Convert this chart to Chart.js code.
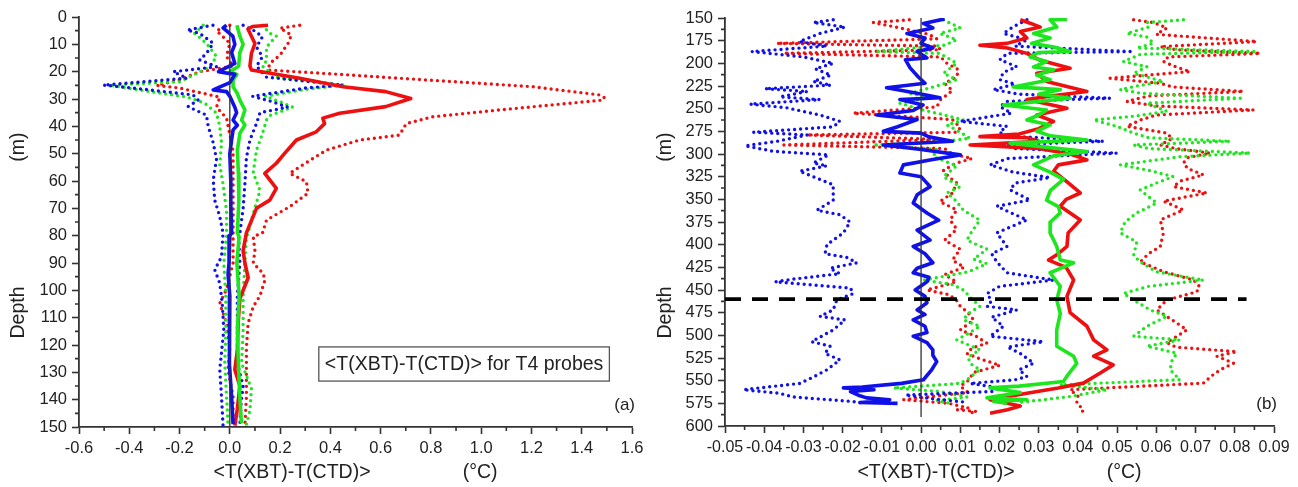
<!DOCTYPE html>
<html>
<head>
<meta charset="utf-8">
<script src="https://cdn.jsdelivr.net/npm/chart.js@4.4.1/dist/chart.umd.min.js"></script>
<style>
  html, body { margin: 0; padding: 0; background: #fff; }
  #wrap { position: relative; width: 1298px; height: 487px; }
  #ca { position: absolute; left: 0; top: 0; }
  #cb { position: absolute; left: 650px; top: 0; }
</style>
</head>
<body>
<div id="wrap">
  <canvas id="ca" width="650" height="487"></canvas>
  <canvas id="cb" width="648" height="487"></canvas>
</div>
<script>
// ---- panel (a): [depth m, <T(XBT)-T(CTD)> degC] ----
const blueMeanA = [[3,-0.013],[4,-0.027],[7,0.012],[10,0.02],[13,0.007],[17,0.02],[20,-0.045],[21,0.02],[24,0],[26.7,-0.066],[27.3,-0.013],[29,0],[33,0.02],[35,0.027],[37.7,0.013],[39.6,0.03],[41.3,0.013],[45,0.007],[50,0],[60,0.004],[69,0.004],[79,0.007],[80,0],[90,-0.003],[94,-0.007],[102,0],[114,-0.003],[127,0],[139,0.007],[149,0.013]];
const greenMeanA = [[3,0.028],[7,0.04],[10,0.053],[13,0.04],[18,0.035],[20,0],[21,0.028],[23,0.013],[25.5,0.013],[28,0.03],[30.4,0.04],[34,0.06],[37.7,0.047],[39.5,0.06],[42.6,0.04],[48.7,0.03],[57,0.034],[67,0.036],[79,0.03],[80.4,0.037],[90,0.028],[102,0.037],[114.5,0.03],[126.7,0.034],[139,0.04],[148.6,0.046]];
const redMeanA = [[3,0.152],[3.5,0.09],[4.4,0.072],[9.7,0.1],[13.3,0.086],[18,0.08],[19.4,0.086],[22.4,0.278],[25.5,0.45],[27.3,0.62],[29.8,0.72],[32.8,0.62],[35.2,0.437],[37,0.37],[39,0.377],[42,0.344],[45,0.265],[49.9,0.218],[53.5,0.185],[57.2,0.139],[62.7,0.185],[67,0.159],[70,0.106],[79,0.066],[85.5,0.053],[90,0.06],[95.4,0.073],[103,0.04],[112,0.033],[122,0.03],[129,0.02],[135,0.04],[143.4,0.03],[149.5,0.02]];
const blueLoA = [[3,-0.067],[4.8,-0.17],[6,-0.12],[9.6,-0.066],[13.3,-0.093],[15.7,-0.12],[18.2,-0.053],[20,-0.225],[22.4,-0.17],[24.9,-0.503],[26,-0.384],[28.5,-0.146],[30.4,-0.126],[32.8,-0.166],[35.9,-0.093],[40,-0.086],[46,-0.066],[52,-0.053],[59.6,-0.066],[67,-0.06],[73,-0.04],[79,-0.027],[87.7,-0.033],[92.5,-0.06],[97.4,-0.04],[104.8,-0.03],[114.5,-0.024],[129,-0.04],[139,-0.033],[149.4,-0.027]];
const greenLoA = [[3,-0.106],[6,-0.14],[9.6,-0.093],[14.5,-0.053],[18.2,-0.08],[20.6,-0.132],[23.7,-0.2],[24.9,-0.477],[26.7,-0.36],[29.3,-0.17],[31.5,-0.1],[35.2,-0.053],[40,-0.04],[46,-0.033],[54,-0.04],[61,-0.027],[71,-0.013],[80,-0.013],[90,-0.024],[102,-0.016],[114.5,-0.016],[126.7,-0.02],[139,-0.013],[149,-0.007]];
const redLoA = [[3,0],[5,-0.053],[9.6,0],[14.5,-0.013],[18,0.013],[20,-0.12],[23,-0.2],[25,-0.29],[26,-0.2],[29.3,-0.04],[33,-0.053],[37,-0.013],[43,0],[49,0.013],[57,0.013],[67,0.013],[80,0.013],[90,0.013],[99.5,-0.013],[104.8,-0.04],[112,-0.013],[121,0],[129,-0.007],[139,0.013],[149,0.013]];
const blueHiA = [[3,0.053],[4.8,0.093],[7.2,0.13],[11,0.106],[14.5,0.13],[18,0.106],[22,0.146],[24.9,0.449],[26,0.3],[29,0.09],[31,0.17],[33,0.23],[35,0.12],[39,0.106],[45,0.08],[51.5,0.066],[61,0.06],[70,0.053],[79,0.04],[80.4,0.035],[90,0.04],[102,0.03],[114.5,0.03],[126.7,0.03],[135,0.053],[141,0.045],[149,0.04]];
const greenHiA = [[3,0.13],[6,0.159],[7,0.185],[11,0.146],[16,0.146],[18,0.13],[22,0.185],[24.9,0.45],[26.5,0.3],[29,0.14],[31,0.2],[33,0.25],[36,0.16],[37.7,0.146],[42.6,0.13],[48.7,0.106],[57,0.093],[63.5,0.12],[72,0.093],[79,0.073],[80.4,0.066],[90,0.06],[102,0.053],[114.5,0.053],[126.7,0.047],[136,0.086],[144,0.08],[149,0.066]];
const redHiA = [[3,0.278],[4.1,0.2],[6.6,0.245],[9.6,0.232],[13.9,0.2],[17,0.159],[19.4,0.152],[21,0.44],[22.4,0.675],[25.5,1.205],[28.5,1.47],[29.5,1.49],[30.4,1.483],[34,1.073],[36.5,0.808],[39,0.702],[43.2,0.675],[45,0.516],[48.7,0.384],[54.8,0.278],[57.2,0.238],[60.3,0.305],[64.5,0.311],[69.4,0.238],[74.3,0.146],[79,0.13],[80.4,0.093],[85.5,0.1],[90,0.093],[93.8,0.132],[96.2,0.14],[102,0.12],[106,0.093],[112,0.073],[121,0.066],[129,0.066],[139,0.066],[149.4,0.06]];
const zeroA = [[3,0],[150,0]];

// ---- panel (b) ----
const blueMeanB = [[151,0.006],[156,0.0006],[161,0.003],[167,-0.0036],[172,0.001],[178,0],[183,0.003],[187,-0.001],[194,0.0015],[196,-0.004],[205,-0.0028],[215,-0.0007],[222,0.001],[227,-0.0088],[233,-0.001],[238,0.0048],[240,-0.0054],[246,0.0005],[252,-0.002],[257,-0.0113],[262,-0.001],[270,-0.006],[275,-0.0096],[277,0],[281,0.002],[286,0.008],[290,-0.0096],[295,0],[301,0.01],[306,0.003],[312,-0.0045],[321,-0.0054],[325,0],[336,0.0023],[345,-0.001],[354,-0.002],[365,0.0015],[373,0.0045],[384,-0.001],[395,0.0023],[402,-0.002],[410,0.001],[420,0.003],[426,-0.001],[431,-0.002],[436,0.002],[441,0.0015],[450,-0.0015],[457,0.001],[464,0.0015],[472,-0.001],[477,0.001],[483,-0.002],[490,0.001],[497,0.0015],[501,-0.002],[508,0.0015],[516,0.003],[522,0.003],[529,0.004],[538,0.0027],[549,0.0006],[553,-0.005],[557,-0.015],[558,-0.0198],[560,-0.012],[562,-0.018],[566,-0.016],[569,-0.0139],[571,-0.008],[573,-0.012],[574,-0.0156],[575,-0.006]];
const greenMeanB = [[151.5,0.0372],[152,0.0329],[160,0.0346],[167,0.0287],[172,0.0329],[178,0.0282],[182,0.0338],[187,0.038],[188,0.03],[193,0.0278],[198,0.032],[204,0.0287],[207,0.0338],[213,0.0295],[218,0.0329],[226,0.0235],[229,0.0355],[234,0.03],[238.5,0.038],[242,0.03],[246,0.021],[251.5,0.032],[257,0.03],[262.5,0.027],[268,0.0329],[275,0.0295],[280,0.033],[284.5,0.0423],[288,0.0227],[293,0.033],[297.4,0.0423],[302,0.0338],[312,0.0287],[320,0.0329],[328,0.0363],[340,0.033],[351,0.032],[358,0.035],[365,0.0355],[375,0.033],[387,0.0329],[402,0.0346],[417,0.0355],[420,0.0389],[431,0.0329],[446,0.0355],[461,0.0346],[476,0.0355],[494,0.0346],[512,0.0346],[523,0.0389],[531,0.0397],[545,0.0372],[551,0.0363],[556,0.025],[558,0.0176],[563,0.0253],[569,0.0168],[571,0.027],[573,0.0185],[575,0.022]];
const redMeanB = [[152,0.0253],[156,0.028],[160,0.0304],[165,0.0253],[172,0.027],[178,0.0219],[180,0.015],[183,0.022],[189,0.027],[196,0.03],[205.5,0.038],[211,0.0295],[220,0.032],[231,0.0423],[236,0.033],[240,0.027],[249.6,0.0372],[257,0.0295],[264,0.0338],[272,0.03],[278,0.025],[280.8,0.015],[282,0.027],[286,0.03],[290,0.0125],[294,0.03],[300,0.038],[306.5,0.0423],[312,0.035],[319,0.0338],[330,0.037],[343,0.0406],[350,0.037],[357.6,0.0355],[365,0.038],[372.7,0.0406],[387,0.0375],[402,0.0372],[410,0.035],[417,0.0325],[425,0.037],[439,0.0389],[457,0.0372],[475,0.038],[490,0.0423],[505,0.044],[516,0.0474],[523,0.044],[532.6,0.049],[541.6,0.0457],[552.7,0.0414],[558,0.035],[563.8,0.027],[571,0.0176],[578,0.0253],[582,0.022],[586,0.0176]];
const blueLoB = [[152,-0.0224],[155,-0.0275],[160,-0.0194],[167,-0.0258],[176,-0.031],[181,-0.024],[187,-0.0432],[193,-0.03],[200,-0.0224],[206,-0.027],[213,-0.023],[220,-0.0275],[224,-0.023],[228,-0.0398],[231,-0.029],[237,-0.036],[240,-0.0258],[245,-0.0436],[249,-0.0343],[257,-0.0258],[264,-0.0207],[270,-0.0224],[276,-0.0428],[279,-0.029],[286,-0.0368],[291,-0.0449],[297,-0.0377],[301,-0.0236],[310,-0.0275],[313,-0.024],[319,-0.031],[334,-0.0224],[351,-0.0224],[362,-0.0266],[367,-0.0207],[375,-0.0181],[387,-0.0198],[400,-0.024],[410,-0.0245],[414,-0.019],[420,-0.0164],[426,-0.0232],[432,-0.0207],[438,-0.0326],[441,-0.0372],[448,-0.018],[454,-0.0173],[461,-0.0215],[472,-0.0224],[479,-0.0258],[483,-0.0194],[494,-0.0224],[507,-0.0279],[512,-0.0232],[520,-0.0245],[527,-0.0207],[538,-0.024],[546,-0.0275],[553,-0.0309],[560,-0.0453],[564,-0.036],[568,-0.0326],[573,-0.0173],[575,-0.0147]];
const greenLoB = [[152,0.0057],[161,0.01],[167,0.0048],[174,0.0091],[180,0.006],[187,-0.0117],[189,0.0048],[200,0.0091],[211,0.0057],[218,0.0091],[225,0.004],[233,-0.0028],[238,0.002],[244,-0.0054],[251,0],[256,0.005],[262.5,0.0108],[268,0.0066],[276,0.01],[282.6,0.0125],[286,0.006],[290,-0.0122],[295,0.004],[303,0.0031],[313,0.0091],[325,0.0057],[336,0.01],[343,0.0066],[352,0.009],[362,0.0108],[373,0.015],[385,0.013],[395,0.0117],[405,0.0168],[416,0.0134],[421,0.0168],[430,0.012],[439,0.0006],[444,0.008],[450,0.0108],[460,0.013],[468,0.015],[476,0.012],[483,0.0108],[490,0.015],[498,0.012],[505,0.0091],[516,0.015],[524,0.012],[531,0.0125],[538,0.015],[548,0.012],[553,0.01],[558,-0.007],[562,0.005],[568,0.0117],[572,0.004],[575,0.0074]];
const redLoB = [[152,-0.003],[155,-0.0122],[161,-0.0054],[168,0.002],[173,0.004],[178,-0.0368],[181,0.004],[185,0.005],[189,-0.035],[193,0.005],[200,0.0066],[207,0.0095],[215,0.0091],[222,0.006],[230,0.008],[240,0.005],[248,0.004],[255,-0.0173],[262,0.008],[271,0.01],[276,0.009],[279,-0.029],[284,0.005],[290,-0.035],[294,0.006],[300,0.008],[305,0.013],[310,0.009],[318,0.0057],[325,0.007],[332,0.0091],[343,0.008],[352.5,0.0048],[361.7,0.0091],[372.7,0.0074],[383,0.0091],[395,0.006],[405,0.01],[417,0.008],[425,0.011],[433,0.006],[441,0.009],[450,0.0015],[455,0.007],[461,0.009],[468,0.01],[475,0.012],[483,0.0134],[494,0.01],[501,0.014],[508.6,0.0168],[514,0.013],[520,0.0117],[526,0.015],[533,0.0201],[541,0.0134],[550,0.012],[556,0.01],[563,0.012],[571,-0.0045],[575,0.007],[580,0.012],[582,0.0091],[584,0.0142],[586,0.012]];
const blueHiB = [[152,0.027],[159.6,0.0235],[167,0.021],[174,0.027],[181,0.024],[187,0.0533],[189,0.022],[196,0.0201],[203.7,0.0244],[210,0.021],[218,0.0201],[223,0.024],[229,0.0184],[234,0.025],[238.5,0.0482],[242,0.022],[247.6,0.0201],[255,0.023],[264,0.01],[269.5,0.0219],[276,0.02],[280,0.022],[286,0.0465],[290,0.021],[294,0.024],[299,0.0499],[305,0.022],[312,0.0176],[320,0.0235],[326,0.0329],[332,0.024],[339.6,0.0227],[350.7,0.0278],[357.6,0.0193],[365,0.023],[372.7,0.027],[387,0.0193],[402,0.0219],[410,0.018],[419,0.0193],[431,0.0219],[439,0.0338],[446,0.02],[454,0.0168],[462,0.018],[468,0.0168],[472,0.0244],[480,0.018],[490,0.021],[501,0.0176],[507,0.0312],[513,0.022],[520,0.0253],[530.7,0.0287],[538,0.025],[545.5,0.027],[549,0.024],[553,0.0125],[558,0.02],[562,0.018],[566,-0.004],[570,0.003],[574,0.012]];
const greenHiB = [[152,0.0669],[155,0.0576],[160,0.058],[167,0.0525],[171,0.0576],[178,0.0593],[183,0.055],[187,0.0856],[190,0.056],[198,0.0516],[203.7,0.0576],[211,0.0542],[220,0.0618],[225,0.055],[229,0.0508],[233,0.056],[238.5,0.0814],[244,0.0576],[253,0.0627],[258,0.055],[262.5,0.044],[269.5,0.0499],[277,0.0542],[282,0.058],[286,0.0788],[290,0.0542],[294,0.058],[299,0.0839],[303,0.066],[312,0.0508],[318,0.058],[325,0.0643],[332,0.06],[339.6,0.0559],[347,0.058],[354,0.0601],[365,0.055],[375,0.052],[387,0.0508],[397,0.055],[412,0.0542],[419,0.0559],[430,0.06],[439,0.072],[446,0.058],[453.8,0.0516],[461,0.0542],[472,0.0584],[479,0.0627],[490,0.0576],[501,0.0542],[505,0.066],[512,0.0576],[519.7,0.0652],[528,0.064],[538,0.0635],[549,0.066],[554.6,0.0355],[560,0.0474],[567.5,0.038],[571,0.0312],[574,0.025]];
const redHiB = [[152,0.0542],[155,0.0593],[161,0.0627],[168,0.06],[176,0.0856],[181.6,0.061],[185,0.065],[189,0.0865],[193,0.063],[198,0.0618],[204,0.065],[209,0.0686],[216.5,0.0482],[222,0.061],[226,0.064],[231,0.0822],[236,0.058],[242,0.0525],[247,0.06],[251.4,0.0848],[257,0.06],[262.5,0.0559],[269.5,0.0525],[277,0.0627],[283,0.064],[290,0.061],[294,0.065],[299,0.0737],[304,0.068],[310,0.0669],[316,0.068],[323,0.072],[330,0.066],[336,0.0644],[343,0.0729],[352,0.0618],[361.7,0.0669],[372.7,0.061],[387,0.0618],[402,0.061],[410,0.058],[419,0.0559],[430,0.062],[439,0.0695],[446,0.071],[452,0.0703],[461,0.0627],[472,0.0601],[483,0.064],[494,0.0678],[508,0.0627],[513,0.065],[518,0.0805],[523,0.0754],[530.7,0.0797],[538,0.0763],[545,0.074],[552.7,0.072],[560,0.038],[567,0.04],[574.6,0.0397],[582,0.0414],[585,0.041]];
const zeroB = [[150,0],[590,0]];
const dashB = [[460,-0.05],[460,0.083]];

// ticks
const xTicksA = [-0.6,-0.4,-0.2,0,0.2,0.4,0.6,0.8,1.0,1.2,1.4,1.6];
const yTicksA = [0,10,20,30,40,50,60,70,80,90,100,110,120,130,140,150];
const xTicksB = [-0.05,-0.04,-0.03,-0.02,-0.01,0,0.01,0.02,0.03,0.04,0.05,0.06,0.07,0.08,0.09];
const yTicksB = [150,175,200,225,250,275,300,325,350,375,400,425,450,475,500,525,550,575,600];

const xTitle = '<T(XBT)-T(CTD)>' + ' '.repeat(17) + '(°C)';
const yTitle = 'Depth' + ' '.repeat(23) + '(m)' + ' '.repeat(5);
const boxText = '<T(XBT)-T(CTD)> for T4 probes';

const FONT = '"Liberation Sans", Arial, sans-serif';
const BLUE = '#1010e8', GREEN = '#1ee61e', RED = '#ee1010', INK = '#222';

function pts(arr) { return arr.map(p => ({x: p[1], y: p[0]})); }
function solid(arr, c) {
  return {data: pts(arr), borderColor: c, borderWidth: 3.6, showLine: true, pointRadius: 0, borderJoinStyle: 'round'};
}
function dotted(arr, c) {
  return {data: pts(arr), borderColor: c, borderWidth: 3.4, borderDash: [0, 6], borderCapStyle: 'round', showLine: true, pointRadius: 0};
}
function range(a, b, s) { const r = []; for (let v = a; v <= b + s / 2; v += s) r.push(+v.toFixed(4)); return r; }

// minor tick marks, placed with the chart's own scales
const minorTicks = {
  id: 'minorTicks',
  afterDraw(chart, args, o) {
    const ctx = chart.ctx, xs = chart.scales.x, ys = chart.scales.y;
    ctx.save();
    ctx.strokeStyle = '#333';
    ctx.lineWidth = 1.6;
    ctx.beginPath();
    o.x.forEach(v => { const p = xs.getPixelForValue(v); ctx.moveTo(p, xs.top); ctx.lineTo(p, xs.top + 4); });
    o.y.forEach(v => { const p = ys.getPixelForValue(v); ctx.moveTo(ys.right, p); ctx.lineTo(ys.right - 4, p); });
    ctx.stroke();
    ctx.restore();
  }
};

// boxed note and panel letter
const notes = {
  id: 'notes',
  afterDraw(chart, args, o) {
    const ctx = chart.ctx, xs = chart.scales.x, ys = chart.scales.y, ca = chart.chartArea;
    ctx.save();
    ctx.fillStyle = INK;
    ctx.textBaseline = 'middle';
    if (o.box) {
      const x0 = xs.getPixelForValue(o.box.x0), x1 = xs.getPixelForValue(o.box.x1);
      const y0 = ys.getPixelForValue(o.box.y0), y1 = ys.getPixelForValue(o.box.y1);
      ctx.strokeStyle = '#555';
      ctx.lineWidth = 1.3;
      ctx.strokeRect(x0, y0, x1 - x0, y1 - y0);
      ctx.font = '19.5px ' + FONT;
      ctx.textAlign = 'center';
      ctx.fillText(boxText, (x0 + x1) / 2, (y0 + y1) / 2 + 1);
    }
    ctx.font = '17px ' + FONT;
    ctx.textAlign = 'right';
    ctx.fillText(o.tag, ca.right + 3, ca.bottom - 22);
    ctx.restore();
  }
};

function makeChart(id, cfg) {
  new Chart(document.getElementById(id), {
    type: 'scatter',
    data: {datasets: cfg.datasets},
    plugins: [minorTicks, notes],
    options: {
      responsive: false,
      devicePixelRatio: 1,
      animation: false,
      events: [],
      layout: {padding: cfg.pad},
      plugins: {
        legend: {display: false},
        tooltip: {enabled: false},
        minorTicks: {x: cfg.xMinor, y: cfg.yMinor},
        notes: {tag: cfg.tag, box: cfg.box}
      },
      scales: {
        x: {
          type: 'linear', position: 'bottom', min: cfg.xMin, max: cfg.xMax,
          afterBuildTicks: s => { s.ticks = cfg.xTicks.map(v => ({value: v})); },
          afterFit: s => { s.height = cfg.xH; },
          grid: {drawOnChartArea: false, drawTicks: true, tickLength: 7, tickColor: '#333', tickWidth: 1.6},
          border: {display: true, color: '#333', width: 1.8},
          ticks: {color: INK, padding: 5, maxRotation: 0, autoSkip: false, font: {family: FONT, size: cfg.xFont},
                  callback: v => Number(v).toFixed(cfg.xDec)},
          title: {display: true, text: xTitle, color: INK, font: {family: FONT, size: 19.5}, padding: {top: 0, bottom: 2.4}}
        },
        y: {
          type: 'linear', position: 'left', reverse: true, min: cfg.yMin, max: cfg.yMax,
          afterBuildTicks: s => { s.ticks = cfg.yTicks.map(v => ({value: v})); },
          afterFit: s => { s.width = cfg.yW; },
          grid: {drawOnChartArea: false, drawTicks: true, tickLength: 7, tickColor: '#333', tickWidth: 1.6},
          border: {display: true, color: '#333', width: 1.8},
          ticks: {color: INK, padding: 5, autoSkip: false, font: {family: FONT, size: 16.5}, callback: v => String(v)},
          title: {display: true, text: yTitle, color: INK, font: {family: FONT, size: 19.5}, padding: {top: cfg.yTitlePad, bottom: 0}}
        }
      }
    }
  });
}

makeChart('ca', {
  datasets: [
    {data: pts(zeroA), borderColor: '#333', borderWidth: 1.3, showLine: true, pointRadius: 0},
    solid(blueMeanA, BLUE), solid(greenMeanA, GREEN), solid(redMeanA, RED),
    dotted(blueLoA, BLUE), dotted(blueHiA, BLUE),
    dotted(greenLoA, GREEN), dotted(greenHiA, GREEN),
    dotted(redLoA, RED), dotted(redHiA, RED)
  ],
  pad: {left: 0, top: 17, right: 18, bottom: 0},
  xMin: -0.6, xMax: 1.6, xTicks: xTicksA, xMinor: range(-0.5, 1.5, 0.2), xDec: 1, xFont: 16.5, xH: 60,
  yMin: 0, yMax: 150, yTicks: yTicksA, yMinor: range(5, 145, 10), yW: 79, yTitlePad: 6.6,
  tag: '(a)',
  box: {x0: 0.354, x1: 1.51, y0: 120.7, y1: 133.2}
});

makeChart('cb', {
  datasets: [
    {data: pts(dashB), borderColor: '#000', borderWidth: 3.8, borderDash: [16, 11], showLine: true, pointRadius: 0},
    {data: pts(zeroB), borderColor: '#333', borderWidth: 1.3, showLine: true, pointRadius: 0},
    solid(blueMeanB, BLUE), solid(greenMeanB, GREEN), solid(redMeanB, RED),
    dotted(blueLoB, BLUE), dotted(blueHiB, BLUE),
    dotted(greenLoB, GREEN), dotted(greenHiB, GREEN),
    dotted(redLoB, RED), dotted(redHiB, RED)
  ],
  pad: {left: 0, top: 18, right: 24, bottom: 0},
  xMin: -0.05, xMax: 0.09, xTicks: xTicksB, xMinor: range(-0.045, 0.085, 0.01), xDec: 2, xFont: 16, xH: 61,
  yMin: 150, yMax: 600, yTicks: yTicksB, yMinor: range(162.5, 587.5, 25), yW: 75, yTitlePad: 3.6,
  tag: '(b)',
  box: null
});
</script>
</body>
</html>
